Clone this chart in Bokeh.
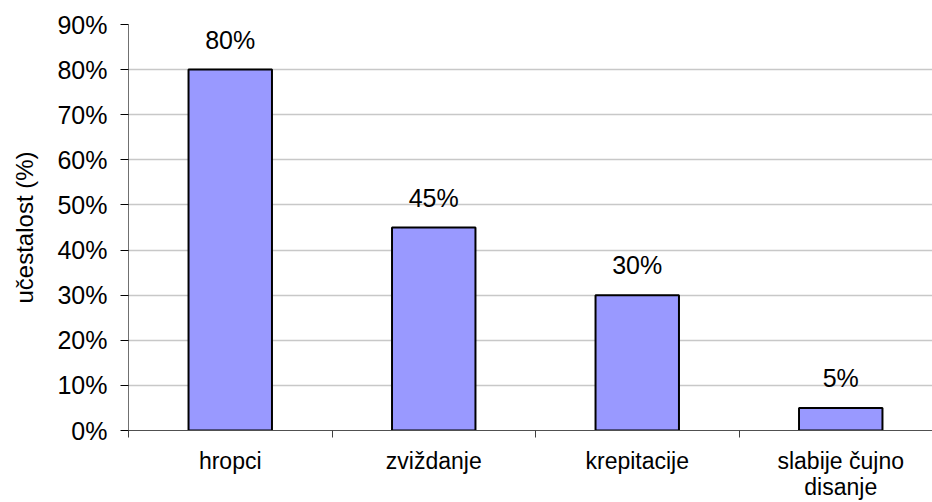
from bokeh.plotting import figure
from bokeh.models import Range1d, FixedTicker, ColumnDataSource, LabelSet, NumeralTickFormatter
from bokeh.core.properties import value
from bokeh.embed import file_html
from bokeh.resources import INLINE

categories = ["hropci", "zviždanje", "krepitacije", "slabije čujno\ndisanje"]
values = [0.80, 0.45, 0.30, 0.05]
value_labels = ["80%", "45%", "30%", "5%"]
y_ticks = [0.0, 0.1, 0.2, 0.3, 0.4, 0.5, 0.6, 0.7, 0.8, 0.9]

FONT = "Liberation Sans"
centers = [i + 0.5 for i in range(len(categories))]

W, H = 932, 502
left, top, bottom = 128, 24, 72
cat_px = 203.5
x_end = (W - left) / cat_px

p = figure(width=W, height=H, output_backend="svg", toolbar_location=None,
           x_range=Range1d(0, x_end), y_range=Range1d(0, 0.9),
           min_border_left=left, min_border_top=top, min_border_bottom=bottom,
           min_border_right=0)
p.outline_line_color = None
p.background_fill_color = "white"

src = ColumnDataSource(dict(x=centers, top=values, lab=value_labels))
p.vbar(x="x", top="top", bottom=0, width=0.41, source=src,
       fill_color="#9999FF", line_color="black", line_width=2)

labels = LabelSet(x="x", y="top", text="lab", source=src, y_offset=16,
                  text_align="center", text_baseline="bottom",
                  text_font=value(FONT), text_font_size="25px", text_color="black")
p.add_layout(labels)

# y axis
p.yaxis.ticker = FixedTicker(ticks=y_ticks)
p.yaxis.formatter = NumeralTickFormatter(format="0%")
p.yaxis.axis_label = "učestalost (%)"
p.yaxis.axis_label_text_font = FONT
p.yaxis.axis_label_text_font_size = "24px"
p.yaxis.axis_label_text_font_style = "normal"
p.yaxis.axis_label_text_color = "black"
p.yaxis.axis_label_standoff = 16
p.yaxis.major_label_text_font = FONT
p.yaxis.major_label_text_font_size = "25px"
p.yaxis.major_label_text_color = "black"
p.yaxis.major_tick_out = 8
p.yaxis.major_tick_in = 0
p.yaxis.minor_tick_out = 0
p.yaxis.minor_tick_in = 0
p.yaxis.axis_line_color = "#707070"
p.yaxis.major_tick_line_color = "black"
p.yaxis.major_label_standoff = 13

# x axis: category names at centers, tick marks at category boundaries
p.xaxis.ticker = FixedTicker(ticks=centers, minor_ticks=[0, 1, 2, 3, 4])
p.xaxis.major_label_overrides = {c: lab for c, lab in zip(centers, categories)}
p.xaxis.major_label_text_font = FONT
p.xaxis.major_label_text_font_size = "23px"
p.xaxis.major_label_text_color = "black"
p.xaxis.major_label_text_line_height = 1.0
p.xaxis.major_label_standoff = 10
p.xaxis.major_tick_out = 0
p.xaxis.major_tick_in = 0
p.xaxis.minor_tick_out = 7
p.xaxis.minor_tick_in = 0
p.xaxis.minor_tick_line_color = "#404040"
p.xaxis.axis_line_color = "#505050"

p.xgrid.grid_line_color = None
p.ygrid.ticker = FixedTicker(ticks=y_ticks)
p.ygrid.grid_line_color = "#c8c8c8"
p.ygrid.grid_line_width = 1.5

open("out.html", "w").write(file_html(p, INLINE))
